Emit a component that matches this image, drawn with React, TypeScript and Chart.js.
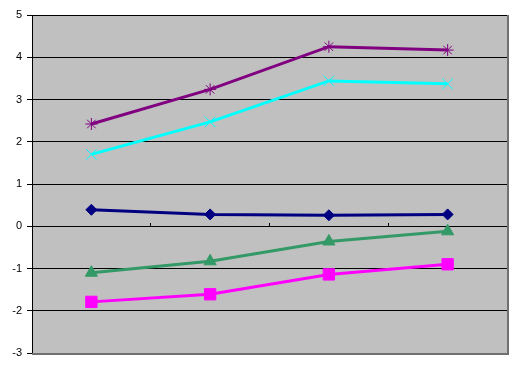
import React, { useEffect, useRef } from "react";
import { Chart, registerables } from "chart.js";

Chart.register(...registerables);

const categories = ["1", "2", "3", "4"];
const purpleStars = [2.42, 3.24, 4.25, 4.17];
const cyanCrosses = [1.7, 2.47, 3.44, 3.37];
const navyDiamonds = [0.39, 0.28, 0.26, 0.28];
const greenTriangles = [-1.1, -0.83, -0.36, -0.12];
const magentaSquares = [-1.79, -1.61, -1.14, -0.9];
const yMin = -3;
const yMax = 5;

const plotBg = {
  id: "plotBg",
  beforeDraw(chart: any) {
    const { ctx, chartArea } = chart;
    ctx.save();
    ctx.fillStyle = "#C0C0C0";
    ctx.fillRect(chartArea.left, chartArea.top, chartArea.right - chartArea.left, chartArea.bottom - chartArea.top);
    ctx.restore();
  },
  afterDraw(chart: any) {
    const { ctx, chartArea } = chart;
    ctx.save();
    ctx.strokeStyle = "#707070";
    ctx.lineWidth = 2;
    ctx.beginPath();
    ctx.moveTo(chartArea.right + 1, chartArea.top);
    ctx.lineTo(chartArea.right + 1, chartArea.bottom + 1);
    ctx.lineTo(chartArea.left, chartArea.bottom + 1);
    ctx.stroke();
    ctx.restore();
  },
};

export default function App() {
  const ref = useRef<HTMLCanvasElement | null>(null);
  useEffect(() => {
    document.body.style.margin = "0";
    const ds = (data: number[], color: string, style: string, radius: number, bw: number) => ({
      data,
      borderColor: color,
      backgroundColor: color,
      borderWidth: 3,
      pointStyle: style,
      pointRadius: radius,
      pointBorderWidth: bw,
      pointBorderColor: color,
      pointBackgroundColor: color,
      tension: 0,
    });
    const chart = new Chart(ref.current as HTMLCanvasElement, {
      type: "line",
      data: {
        labels: categories,
        datasets: [
          ds(navyDiamonds, "#000080", "rectRot", 5.5, 1),
          ds(magentaSquares, "#FF00FF", "rect", 8, 1),
          ds(greenTriangles, "#339966", "triangle", 7, 1),
          ds(cyanCrosses, "#00FFFF", "crossRot", 7.5, 1),
          ds(purpleStars, "#800080", "star", 6, 1),
        ] as any,
      },
      options: {
        animation: false,
        responsive: false,
        layout: { padding: { top: 15, right: 17, bottom: 17, left: 0 } },
        plugins: { legend: { display: false }, tooltip: { enabled: false } },
        scales: {
          x: {
            type: "category",
            offset: true,
            position: { y: 0 } as any,
            grid: { offset: true, drawOnChartArea: false, drawTicks: true, tickLength: -4, color: "#000000" },
            border: { display: true, color: "#000000", width: 1 },
            ticks: { display: false },
          },
          y: {
            min: yMin,
            max: yMax,
            ticks: {
              stepSize: 1,
              color: "#000000",
              padding: 5,
              font: { family: "Liberation Sans, Arial, sans-serif", size: 11 },
            },
            grid: {
              color: (c: any) => (c.tick && c.tick.value === yMin ? "#707070" : "#000000"),
              tickColor: "#000000",
              tickLength: 5,
              lineWidth: 1,
            },
            border: { display: true, color: "#000000", width: 1 },
            afterFit: (scale: any) => {
              scale.width = 32;
              scale.paddingTop = 0;
              scale.paddingBottom = 0;
            },
          },
        },
      },
      plugins: [plotBg],
    });
    return () => chart.destroy();
  }, []);
  return (
    <div style={{ position: "absolute", left: 0, top: 0, width: 524, height: 370, background: "#fff" }}>
      <canvas ref={ref} width={524} height={370} />
    </div>
  );
}
